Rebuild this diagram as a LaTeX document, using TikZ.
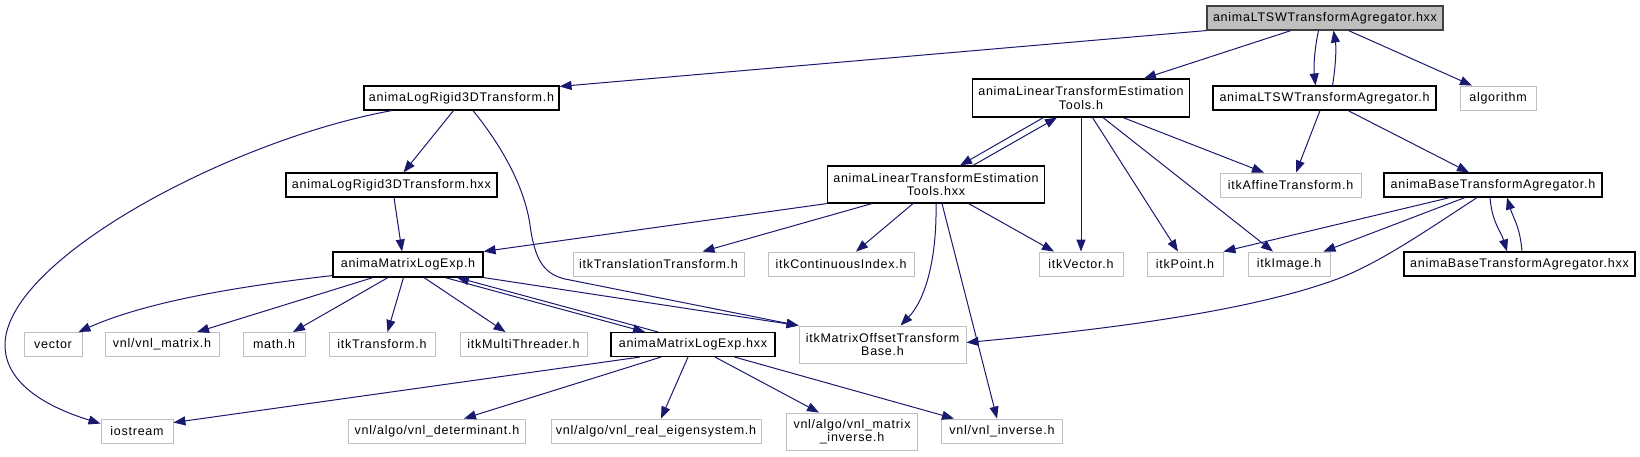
\documentclass[tikz,border=0pt]{standalone}
\usepackage{fontspec}
\setmainfont{Liberation Sans}[LetterSpace=6]
\usetikzlibrary{arrows.meta}
\definecolor{edgeblue}{HTML}{191970}
\definecolor{sysgray}{HTML}{BFBFBF}
\definecolor{rootline}{HTML}{404040}
\begin{document}
\begin{tikzpicture}[x=1pt, y=-1pt,
  inc/.style={draw=black, line width=1.1pt, inner sep=0pt, minimum height=24pt,
    align=center, font=\fontsize{12.5}{13.5}\selectfont},
  sys/.style={inc, draw=sysgray, line width=0.9pt},
  dep/.style={draw=edgeblue, line width=1pt, -{Triangle[length=12pt,width=9pt]}}]
  \useasboundingbox (0,0) rectangle (1640,456);
  \node[inc, draw=rootline, fill=sysgray, minimum width=236pt] (rt) at (1325,18) {animaLTSWTransformAgregator.hxx};
  \node[inc, minimum width=195pt] (lrh) at (461.5,98) {animaLogRigid3DTransform.h};
  \node[inc, minimum width=217pt, minimum height=38pt] (lth) at (1081,98) {animaLinearTransformEstimation\\Tools.h};
  \node[inc, minimum width=223pt] (lh) at (1324.5,98) {animaLTSWTransformAgregator.h};
  \node[sys, minimum width=76pt] (alg) at (1498,98) {algorithm};
  \node[inc, minimum width=211pt] (lrx) at (391.5,185) {animaLogRigid3DTransform.hxx};
  \node[inc, minimum width=217pt, minimum height=37pt] (ltx) at (936,184.5) {animaLinearTransformEstimation\\Tools.hxx};
  \node[sys, minimum width=141pt] (aff) at (1290.5,185) {itkAffineTransform.h};
  \node[inc, minimum width=218pt] (bth) at (1493,185) {animaBaseTransformAgregator.h};
  \node[inc, minimum width=150pt, minimum height=25pt] (mle) at (408,264.5) {animaMatrixLogExp.h};
  \node[sys, minimum width=171pt] (trans) at (658.5,264) {itkTranslationTransform.h};
  \node[sys, minimum width=146pt] (ci) at (841,264) {itkContinuousIndex.h};
  \node[sys, minimum width=84pt] (vec) at (1081,264) {itkVector.h};
  \node[sys, minimum width=76pt] (pt) at (1185,264) {itkPoint.h};
  \node[sys, minimum width=82pt] (img) at (1289,264) {itkImage.h};
  \node[inc, minimum width=231pt] (bx) at (1519.5,264) {animaBaseTransformAgregator.hxx};
  \node[sys, minimum width=58pt] (vector) at (53,344.5) {vector};
  \node[sys, minimum width=114pt] (vmat) at (162,344.5) {vnl/vnl\_matrix.h};
  \node[sys, minimum width=62pt] (math) at (274,344.5) {math.h};
  \node[sys, minimum width=106pt] (tr) at (382,344.5) {itkTransform.h};
  \node[sys, minimum width=127pt] (mt) at (523.5,344.5) {itkMultiThreader.h};
  \node[inc, minimum width=164pt] (mlx) at (693,344.5) {animaMatrixLogExp.hxx};
  \node[sys, minimum width=167pt, minimum height=37pt] (mot) at (882.5,344.5) {itkMatrixOffsetTransform\\Base.h};
  \node[sys, minimum width=72pt] (ios) at (137,431) {iostream};
  \node[sys, minimum width=176.5pt] (det) at (437,431) {vnl/algo/vnl\_determinant.h};
  \node[sys, minimum width=210pt] (eig) at (656,431) {vnl/algo/vnl\_real\_eigensystem.h};
  \node[sys, minimum width=131.5pt, minimum height=37pt] (minv) at (852,431.5) {vnl/algo/vnl\_matrix\\\_inverse.h};
  \node[sys, minimum width=120.5pt] (vinv) at (1002,431) {vnl/vnl\_inverse.h};

  \draw[dep] (rt.south west) -- ([yshift=-1pt]lrh.north east);
  \draw[dep] ([xshift=-34pt]rt.south) -- ([xshift=63pt]lth.north);
  \draw[dep] ([xshift=-6.5pt]rt.south) .. controls +(-4,18) and +(-2,-18) .. ([xshift=-9pt]lh.north);
  \draw[dep] ([xshift=8pt]lh.north) .. controls +(3,-18) and +(3,18) .. ([xshift=8.5pt]rt.south);
  \draw[dep] ([xshift=23.5pt]rt.south) -- ([xshift=-26pt]alg.north);
  \draw[dep] ([xshift=-69.5pt]lrh.south) .. controls (230,140) and (5,260) .. (5,345)
    .. controls (5,385) and (50,408) .. ([yshift=-5pt]ios.north west);
  \draw[dep] ([xshift=-8pt]lrh.south) -- ([xshift=12pt]lrx.north);
  \draw[dep] ([xshift=11.5pt]lrh.south) .. controls (505,150) and (525,190) .. (530,225)
    .. controls (535,262) and (545,274) .. (565,279) -- (mot.north west);
  \draw[dep] ([xshift=2.5pt]lrx.south) -- ([xshift=-6pt]mle.north);
  \draw[dep] ([xshift=-37.5pt]lth.south) -- ([xshift=24pt]ltx.north);
  \draw[dep] ([xshift=37pt]ltx.north) -- ([xshift=-24pt]lth.south);
  \draw[dep] ([xshift=42pt]lth.south) -- ([xshift=-26.5pt]aff.north);
  \draw[dep] ([xshift=11.5pt]lth.south) -- ([xshift=-7pt]pt.north);
  \draw[dep] ([xshift=22pt]lth.south) -- ([xshift=-16pt]img.north);
  \draw[dep] (lth.south) -- (vec.north);
  \draw[dep] ([xshift=-4.5pt]lh.south) -- ([xshift=5.5pt]aff.north);
  \draw[dep] ([xshift=23.5pt]lh.south) -- ([xshift=-24pt]bth.north);
  \draw[dep] ([xshift=-43pt]bth.south) -- (pt.north east);
  \draw[dep] ([xshift=-28pt]bth.south) -- ([xshift=-7pt]img.north east);
  \draw[dep] ([xshift=-16pt]bth.south) .. controls (1420,235) and (1380,262) .. (1340,278)
    .. controls (1250,312) and (1100,330) .. ([yshift=2pt]mot.east);
  \draw[dep] ([xshift=-3pt]bth.south) .. controls +(2,25) and +(-6,-20) .. ([xshift=-12.5pt]bx.north);
  \draw[dep] ([xshift=2.5pt]bx.north) .. controls +(-2,-25) and +(6,20) .. ([xshift=14pt]bth.south);
  \draw[dep] (ltx.south west) -- (mle.north east);
  \draw[dep] ([xshift=-64pt]ltx.south) -- ([xshift=44pt]trans.north);
  \draw[dep] ([xshift=-23pt]ltx.south) -- ([xshift=15pt]ci.north);
  \draw[dep] (ltx.south) .. controls (937,260) and (925,300) .. ([xshift=18pt]mot.north);
  \draw[dep] ([xshift=6pt]ltx.south) -- ([xshift=-5pt]vinv.north);
  \draw[dep] ([xshift=32.6pt]ltx.south) -- ([xshift=-27pt]vec.north);
  \draw[dep] ([yshift=2pt]mle.south west) .. controls (250,285) and (150,300) .. ([xshift=-4pt]vector.north east);
  \draw[dep] ([xshift=-35pt]mle.south) -- ([xshift=35pt]vmat.north);
  \draw[dep] ([xshift=-20pt]mle.south) -- ([xshift=19pt]math.north);
  \draw[dep] ([xshift=-4.5pt]mle.south) -- ([xshift=5.5pt]tr.north);
  \draw[dep] ([xshift=16pt]mle.south) -- ([xshift=-18pt]mt.north);
  \draw[dep] ([xshift=37pt]mle.south) -- ([xshift=-48pt]mlx.north);
  \draw[dep] ([xshift=-35pt]mlx.north) -- ([xshift=49pt]mle.south);
  \draw[dep] (mle.south east) -- (mot.north west);
  \draw[dep] ([xshift=-53pt]mlx.south) -- ([yshift=-4pt]ios.north east);
  \draw[dep] ([xshift=-32pt]mlx.south) -- ([xshift=27pt]det.north);
  \draw[dep] ([xshift=-5pt]mlx.south) -- ([xshift=5pt]eig.north);
  \draw[dep] ([xshift=22pt]mlx.south) -- ([xshift=-33pt]minv.north);
  \draw[dep] ([xshift=41.6pt]mlx.south) -- ([xshift=-48pt]vinv.north);
\end{tikzpicture}
\end{document}
